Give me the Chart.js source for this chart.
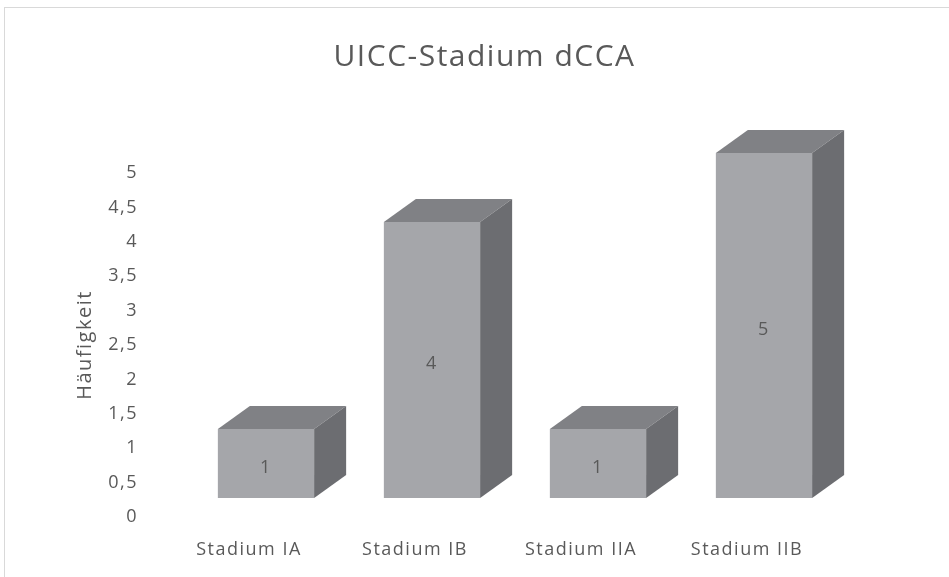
<!DOCTYPE html>
<html>
<head>
<meta charset="utf-8">
<script src="https://cdn.jsdelivr.net/npm/chart.js@4/dist/chart.umd.min.js"></script>
<style>
  html, body { margin: 0; padding: 0; background: #fff; overflow: hidden; }
  #frame { position: absolute; left: 4px; top: 7px; width: 980px; height: 600px; border: 1px solid #d9d9d9; }
  #wrap { position: absolute; left: 0; top: 0; width: 949px; height: 577px; }
</style>
</head>
<body>
<div id="frame"></div>
<div id="wrap"><canvas id="myChart" width="949" height="577"></canvas></div>
<script>
const stages = ['Stadium IA', 'Stadium IB', 'Stadium IIA', 'Stadium IIB'];
const counts = [1, 4, 1, 5];
const yTicks = [0, 0.5, 1, 1.5, 2, 2.5, 3, 3.5, 4, 4.5, 5];

const textColor = '#595959';
const fontFamily = '"Open Sans", "Liberation Sans", sans-serif';

// loose letter spacing for all text on the canvas
const spacing = {
    id: 'spacing',
    beforeLayout(chart) { chart.ctx.letterSpacing = '1.5px'; },
    beforeDraw(chart) { chart.ctx.letterSpacing = '1.5px'; }
};

// extrudes every bar into a box and writes its value on the front face
const box3d = {
    id: 'box3d',
    afterDatasetsDraw(chart) {
        const ctx = chart.ctx;
        const dx = 32, dy = -23;
        const meta = chart.getDatasetMeta(0);
        ctx.save();
        meta.data.forEach((bar, i) => {
            const p = bar.getProps(['x', 'y', 'base', 'width'], true);
            const l = p.x - p.width / 2, r = p.x + p.width / 2;
            // top face
            ctx.fillStyle = '#808185';
            ctx.beginPath();
            ctx.moveTo(l, p.y);
            ctx.lineTo(l + dx, p.y + dy);
            ctx.lineTo(r + dx, p.y + dy);
            ctx.lineTo(r, p.y);
            ctx.closePath();
            ctx.fill();
            // side face
            ctx.fillStyle = '#6c6d71';
            ctx.beginPath();
            ctx.moveTo(r, p.y);
            ctx.lineTo(r + dx, p.y + dy);
            ctx.lineTo(r + dx, p.base + dy);
            ctx.lineTo(r, p.base);
            ctx.closePath();
            ctx.fill();
            // value label
            ctx.fillStyle = textColor;
            ctx.font = '18px ' + fontFamily;
            ctx.textAlign = 'center';
            ctx.textBaseline = 'middle';
            ctx.fillText(String(counts[i]), p.x, (p.y + p.base) / 2 + 4);
        });
        ctx.restore();
    }
};

const ctx = document.getElementById('myChart').getContext('2d');
const myChart = new Chart(ctx, {
    type: 'bar',
    data: {
        labels: stages,
        datasets: [{
            data: counts,
            yAxisID: 'yb',
            backgroundColor: '#a5a6aa',
            borderWidth: 0,
            categoryPercentage: 1,
            barPercentage: 0.58,
            clip: false
        }]
    },
    options: {
        responsive: false,
        animation: false,
        layout: { padding: { left: 20, right: 0, top: 0, bottom: 0 } },
        plugins: {
            legend: { display: false },
            tooltip: { enabled: false },
            title: {
                display: true,
                text: 'UICC-Stadium dCCA',
                color: textColor,
                font: { family: fontFamily, size: 30, weight: 'normal', lineHeight: 1.2 },
                padding: { top: 39, bottom: 98 }
            }
        },
        scales: {
            x: {
                grid: { display: false, drawTicks: false },
                border: { display: false },
                ticks: {
                    color: textColor,
                    font: { family: fontFamily, size: 18 },
                    padding: 22,
                    labelOffset: -17,
                    maxRotation: 0
                },
                afterFit(scale) { scale.height = 60; }
            },
            y: {
                min: 0,
                max: 5,
                grid: { display: false, drawTicks: false },
                border: { display: false },
                afterBuildTicks(scale) { scale.ticks = yTicks.map(v => ({ value: v })); },
                ticks: {
                    color: textColor,
                    font: { family: fontFamily, size: 18 },
                    padding: 45,
                    callback: v => String(v).replace('.', ',')
                },
                title: {
                    display: true,
                    text: 'Häufigkeit',
                    color: textColor,
                    font: { family: fontFamily, size: 20 },
                    padding: { top: 53, bottom: 0 }
                },
                afterFit(scale) { scale.width = 163; }
            },
            // empty right-hand strip so the plot ends where the boxes need it
            yr: {
                position: 'right',
                grid: { display: false },
                border: { display: false },
                ticks: { display: false },
                afterFit(scale) { scale.width = 102; }
            },
            // scale the boxes are measured on (front faces sit lower than the tick axis)
            yb: {
                display: false,
                min: -0.275,
                max: 4.71
            }
        }
    },
    plugins: [spacing, box3d]
});
</script>
</body>
</html>
